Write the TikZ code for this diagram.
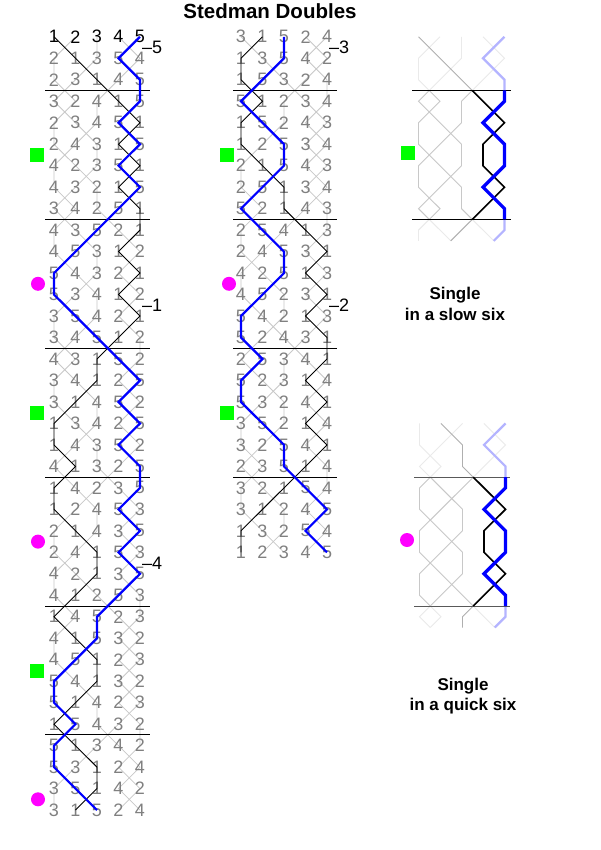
\documentclass[tikz,border=0pt]{standalone}
\usepackage{fontspec}
\setmainfont{Liberation Sans}
\usetikzlibrary{calc}
\definecolor{numgray}{RGB}{128,128,128}
\definecolor{linegray}{RGB}{200,200,200}
\definecolor{fadegray}{RGB}{234,234,234}
\definecolor{fadeblack}{RGB}{175,175,175}
\definecolor{fadeblue}{RGB}{180,180,255}
\definecolor{bellblue}{RGB}{0,0,255}
\definecolor{sqgreen}{RGB}{0,255,0}
\definecolor{dotmag}{RGB}{255,0,255}
\def\Lrows{{1,2,3,4,5},{2,1,3,5,4},{2,3,1,4,5},{3,2,4,1,5},{2,3,4,5,1},{2,4,3,1,5},{4,2,3,5,1},{4,3,2,1,5},{3,4,2,5,1},{4,3,5,2,1},{4,5,3,1,2},{5,4,3,2,1},{5,3,4,1,2},{3,5,4,2,1},{3,4,5,1,2},{4,3,1,5,2},{3,4,1,2,5},{3,1,4,5,2},{1,3,4,2,5},{1,4,3,5,2},{4,1,3,2,5},{1,4,2,3,5},{1,2,4,5,3},{2,1,4,3,5},{2,4,1,5,3},{4,2,1,3,5},{4,1,2,5,3},{1,4,5,2,3},{4,1,5,3,2},{4,5,1,2,3},{5,4,1,3,2},{5,1,4,2,3},{1,5,4,3,2},{5,1,3,4,2},{5,3,1,2,4},{3,5,1,4,2},{3,1,5,2,4}}
\def\Mrows{{3,1,5,2,4},{1,3,5,4,2},{1,5,3,2,4},{5,1,2,3,4},{1,5,2,4,3},{1,2,5,3,4},{2,1,5,4,3},{2,5,1,3,4},{5,2,1,4,3},{2,5,4,1,3},{2,4,5,3,1},{4,2,5,1,3},{4,5,2,3,1},{5,4,2,1,3},{5,2,4,3,1},{2,5,3,4,1},{5,2,3,1,4},{5,3,2,4,1},{3,5,2,1,4},{3,2,5,4,1},{2,3,5,1,4},{3,2,1,5,4},{3,1,2,4,5},{1,3,2,5,4},{1,2,3,4,5}}
\def\Srows{{1,2,3,4,5},{2,1,3,5,4},{2,3,1,4,5},{3,2,4,1,5},{2,3,4,5,1},{2,4,3,1,5},{4,2,3,1,5},{4,3,2,5,1},{3,4,2,1,5},{4,3,1,2,5},{4,1,3,5,2}}
\def\Qrows{{2,1,3,4,5},{2,3,1,5,4},{3,2,1,4,5},{2,3,4,1,5},{2,4,3,5,1},{4,2,3,1,5},{4,3,2,1,5},{3,4,2,5,1},{3,2,4,1,5},{2,3,1,4,5},{3,2,1,5,4}}
\begin{document}
\begin{tikzpicture}[x=1pt,y=-1pt,
  digit/.style={inner sep=0pt, font=\fontsize{18}{20}\selectfont},
  lbl/.style={inner sep=0pt, anchor=west, font=\fontsize{18}{20}\selectfont},
  gline/.style={draw=linegray, line width=0.8pt},
  bline/.style={draw=black, line width=0.9pt},
  blueline/.style={draw=bellblue, line width=2.2pt},
  sepline/.style={draw=black, line width=1pt},
  rgray/.style={draw=linegray, line width=0.9pt},
  fgray/.style={draw=fadegray, line width=0.9pt},
  rblack/.style={draw=black, line width=1.6pt},
  fblack/.style={draw=fadeblack, line width=0.9pt},
  rblue/.style={draw=bellblue, line width=3.3pt},
  fblue/.style={draw=fadeblue, line width=2.2pt},
  sqmark/.style={fill=sqgreen, rectangle, minimum size=14pt, inner sep=0pt},
  dotmark/.style={fill=dotmag, circle, minimum size=14pt, inner sep=0pt},
  titletext/.style={inner sep=0pt, font=\bfseries\fontsize{20.5}{23}\selectfont},
  captext/.style={inner sep=0pt, font=\bfseries\fontsize{17}{20}\selectfont}
]
\useasboundingbox[fill=white] (0,0) rectangle (600,850);

\node[titletext] (title) at (270,11) {Stedman Doubles};

% ---------- coordinates ----------
\foreach \row [count=\k from 0] in \Lrows {
  \foreach \d [count=\p] in \row {
    \coordinate (L-\k-\d) at ({54+21.5*(\p-1)},{36.8+21.48*\k});
  }
}
\foreach \row [count=\k from 0] in \Mrows {
  \foreach \d [count=\p] in \row {
    \coordinate (M-\k-\d) at ({241+21.5*(\p-1)},{36.8+21.48*\k});
  }
}
\foreach \row [count=\k from 0] in \Srows {
  \foreach \d [count=\p] in \row {
    \coordinate (S-\k-\d) at ({418.5+21.5*(\p-1)},{36.8+21.48*\k});
  }
}
\foreach \row [count=\k from 0] in \Qrows {
  \foreach \d [count=\p] in \row {
    \coordinate (Q-\k-\d) at ({419.5+21.5*(\p-1)},{36.8+21.48*(\k+18)});
  }
}

% ---------- left and middle columns ----------
\foreach \b in {2,3,4} {
  \draw[gline] (L-0-\b) \foreach \k in {1,...,36} { -- (L-\k-\b) };
  \draw[gline] (M-0-\b) \foreach \k in {1,...,24} { -- (M-\k-\b) };
}
\foreach \j in {0,...,5} {
  \draw[sepline] (45,{36.8+21.48*(2.5+6*\j)}) -- (150,{36.8+21.48*(2.5+6*\j)});
}
\foreach \j in {0,...,3} {
  \draw[sepline] (233,{36.8+21.48*(2.5+6*\j)}) -- (337,{36.8+21.48*(2.5+6*\j)});
}
\foreach \row [count=\k from 0] in \Lrows {
  \foreach \d [count=\p] in \row {
    \ifnum\k=0 \def\dcol{black}\else\def\dcol{numgray}\fi
    \node[digit, text=\dcol] (LD-\k-\p) at (L-\k-\d) {\d};
  }
}
\foreach \row [count=\k from 0] in \Mrows {
  \foreach \d [count=\p] in \row {
    \node[digit, text=numgray] (MD-\k-\p) at (M-\k-\d) {\d};
  }
}
\draw[bline] (L-0-1) \foreach \k in {1,...,36} { -- (L-\k-1) };
\draw[bline] (M-0-1) \foreach \k in {1,...,24} { -- (M-\k-1) };
\draw[blueline] (L-0-5) \foreach \k in {1,...,36} { -- (L-\k-5) };
\draw[blueline] (M-0-5) \foreach \k in {1,...,24} { -- (M-\k-5) };

\node[lbl] (c5) at (142,47.5) {\textendash5};
\node[lbl] (c1) at (142,305.3) {\textendash1};
\node[lbl] (c4) at (142,563.1) {\textendash4};
\node[lbl] (c3) at (329,47.5) {\textendash3};
\node[lbl] (c2) at (329,305.3) {\textendash2};

\node[sqmark] (sqA) at (37,154.9) {};
\node[dotmark] (dtA) at (38,283.8) {};
\node[sqmark] (sqB) at (37,412.7) {};
\node[dotmark] (dtB) at (38,541.6) {};
\node[sqmark] (sqC) at (37,670.5) {};
\node[dotmark] (dtC) at (38,799.3) {};
\node[sqmark] (sqD) at (227,154.9) {};
\node[dotmark] (dtD) at (229,283.8) {};
\node[sqmark] (sqE) at (227,412.7) {};

% ---------- singles ----------
\foreach \b in {1,...,5} {
  \coordinate (S-h2-\b) at ($(S-2-\b)!0.5!(S-3-\b)$);
  \coordinate (S-h8-\b) at ($(S-8-\b)!0.5!(S-9-\b)$);
  \coordinate (S-h9-\b) at ($(S-9-\b)!0.5!(S-10-\b)$);
  \coordinate (Q-h2-\b) at ($(Q-2-\b)!0.5!(Q-3-\b)$);
  \coordinate (Q-h8-\b) at ($(Q-8-\b)!0.5!(Q-9-\b)$);
  \coordinate (Q-h9-\b) at ($(Q-9-\b)!0.5!(Q-10-\b)$);
}
\foreach \b in {2,3,4} {
  \draw[fgray] (S-0-\b) -- (S-1-\b) -- (S-2-\b) -- (S-h2-\b);
  \draw[rgray] (S-h2-\b) \foreach \k in {3,...,8} { -- (S-\k-\b) } -- (S-h8-\b);
  \draw[fgray] (S-h8-\b) -- (S-9-\b) -- (S-h9-\b);
  \draw[fgray] (Q-0-\b) -- (Q-1-\b) -- (Q-2-\b) -- (Q-h2-\b);
  \draw[rgray] (Q-h2-\b) \foreach \k in {3,...,8} { -- (Q-\k-\b) } -- (Q-h8-\b);
  \draw[fgray] (Q-h8-\b) -- (Q-9-\b) -- (Q-h9-\b);
}
\draw[fblack] (S-0-1) -- (S-1-1) -- (S-2-1) -- (S-h2-1);
\draw[fblack] (S-h8-1) -- (S-9-1) -- (S-h9-1);
\draw[fblack] (Q-0-1) -- (Q-1-1) -- (Q-2-1) -- (Q-h2-1);
\draw[fblack] (Q-h8-1) -- (Q-9-1) -- (Q-h9-1);
\draw[fblue] (S-0-5) -- (S-1-5) -- (S-2-5) -- (S-h2-5);
\draw[fblue] (S-h8-5) -- (S-9-5) -- (S-h9-5);
\draw[fblue] (Q-0-5) -- (Q-1-5) -- (Q-2-5) -- (Q-h2-5);
\draw[fblue] (Q-h8-5) -- (Q-9-5) -- (Q-h9-5);

\draw[sepline] (412,90.5) -- (511,90.5);
\draw[sepline] (412,219.4) -- (511,219.4);
\draw[sepline, draw=black!65] (414,477.1) -- (510,477.1);
\draw[sepline, draw=black!65] (414,606.0) -- (510,606.0);

\draw[rblack] (S-h2-1) \foreach \k in {3,...,8} { -- (S-\k-1) } -- (S-h8-1);
\draw[rblack] (Q-h2-1) \foreach \k in {3,...,8} { -- (Q-\k-1) } -- (Q-h8-1);
\draw[rblue] (S-h2-5) \foreach \k in {3,...,8} { -- (S-\k-5) } -- (S-h8-5);
\draw[rblue] (Q-h2-5) \foreach \k in {3,...,8} { -- (Q-\k-5) } -- (Q-h8-5);

\node[sqmark] (sqR) at (408,153.5) {};
\node[dotmark] (dtR) at (407,540) {};

\node[captext] (capS1) at (455,295) {Single};
\node[captext] (capS2) at (455,314) {in a slow six};
\node[captext] (capQ1) at (463,686) {Single};
\node[captext] (capQ2) at (463,706) {in a quick six};
\end{tikzpicture}
\end{document}
